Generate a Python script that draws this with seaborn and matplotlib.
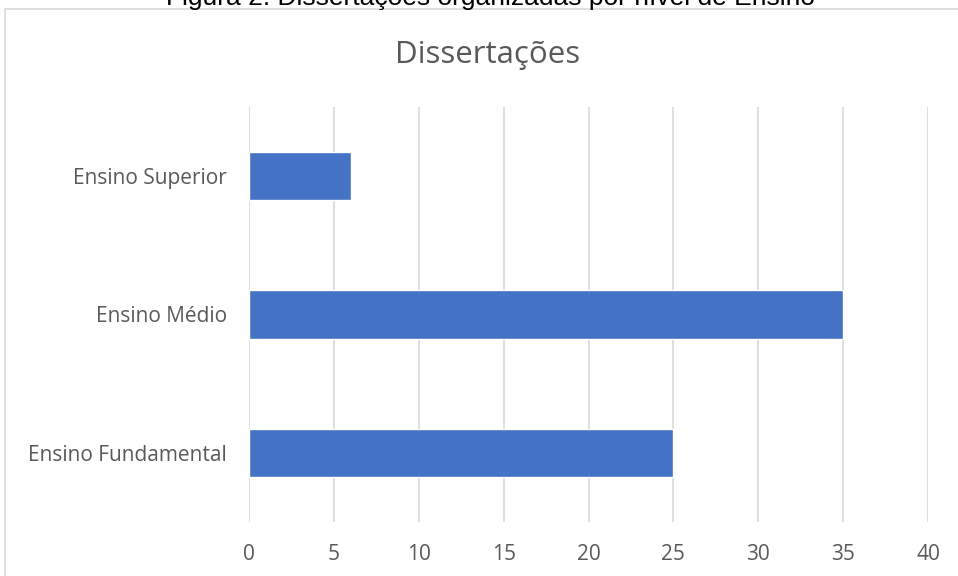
import pandas as pd
import matplotlib.pyplot as plt
import seaborn as sns
from matplotlib.patches import Rectangle

sns.set_theme(style="white")
plt.rcParams['font.family'] = ['Open Sans', 'DejaVu Sans']

# Data
niveis = ["Ensino Superior", "Ensino Médio", "Ensino Fundamental"]
dissertacoes = [6, 35, 25]
ticks = [0, 5, 10, 15, 20, 25, 30, 35, 40]

df = pd.DataFrame({"Nivel": niveis, "Dissertacoes": dissertacoes})

fig = plt.figure(figsize=(9.58, 5.76), dpi=100)

# chart frame (Excel-style border)
fig.patches.append(Rectangle((5 / 958, -0.05), 1.0, 1 - 9 / 576 + 0.05,
                             transform=fig.transFigure, fill=False,
                             edgecolor="#d9d9d9", linewidth=1.2))

ax = fig.add_axes([249 / 958, 1 - 522 / 576, (928 - 249) / 958, (522 - 107) / 576])
sns.barplot(data=df, x="Dissertacoes", y="Nivel", order=niveis, orient="h",
            color="#4472C4", saturation=1, width=0.35, ax=ax)

ax.set_xlim(0, 40)
ax.set_xticks(ticks)
ax.xaxis.grid(True, color="#d9d9d9", linewidth=1.2)
ax.set_axisbelow(True)
for s in ax.spines.values():
    s.set_visible(False)
ax.set_xlabel("")
ax.set_ylabel("")
ax.tick_params(axis="both", length=0, labelsize=15, labelcolor="#595959")
ax.tick_params(axis="x", pad=16)
ax.tick_params(axis="y", pad=16)

fig.text(488 / 958, 1 - 55 / 576, "Dissertações", ha="center", va="center",
         fontsize=22.5, color="#595959")
fig.text(490 / 958, 1 - 4.5 / 576, "Figura 2: Dissertações organizadas por nível de Ensino",
         ha="center", va="baseline", fontsize=19, color="black",
         family=["Liberation Sans", "DejaVu Sans"])

fig.savefig("out.png", dpi=100)
